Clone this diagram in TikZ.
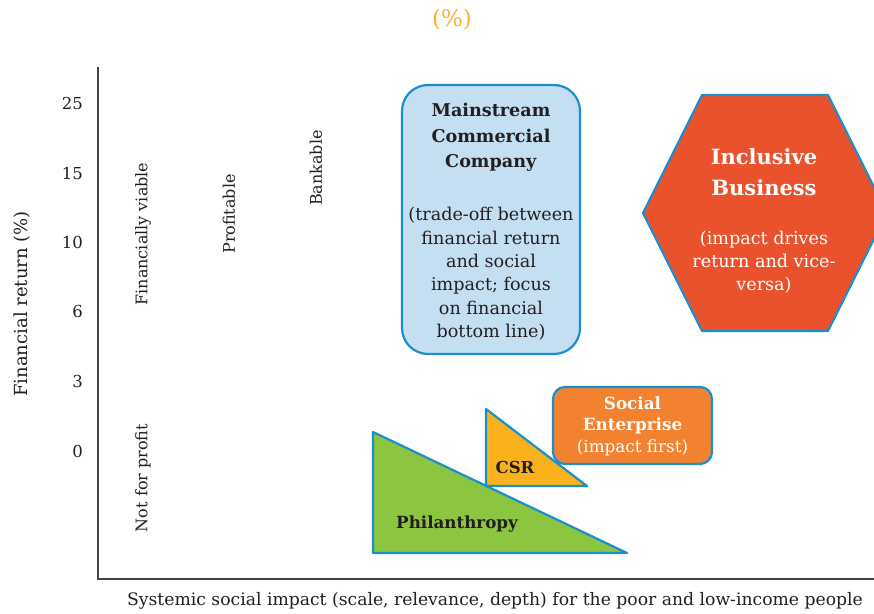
\documentclass[tikz,border=0pt]{standalone}
\usepackage{fontspec}
\setmainfont{DejaVu Serif}
\definecolor{edgeblue}{HTML}{1B8FCB}
\definecolor{boxblue}{HTML}{C4DFF2}
\definecolor{hexred}{HTML}{E9522C}
\definecolor{seorange}{HTML}{F28130}
\definecolor{csryellow}{HTML}{F9B21B}
\definecolor{philgreen}{HTML}{8CC540}
\definecolor{titleorange}{HTML}{F9B233}
\definecolor{axisgrey}{HTML}{444444}
\definecolor{txt}{HTML}{231F20}
\begin{document}
\begin{tikzpicture}[x=1pt,y=-1pt,
  lbl/.style={font=\fontsize{16}{19}\selectfont, text=txt, inner sep=0pt},
  tick/.style={font=\fontsize{16.5}{19}\selectfont, text=txt, inner sep=0pt, anchor=east},
  vlbl/.style={lbl, rotate=90},
  shapeline/.style={draw=edgeblue, line width=2.2pt, line join=round},
  boxtext/.style={align=center, inner sep=0pt},
  axis/.style={draw=axisgrey, line width=1.3pt}]
\useasboundingbox (0,0) rectangle (874,613);

% title fragment
\node[font=\fontsize{23}{26}\selectfont, text=titleorange, inner sep=0pt] (title) at (452,20) {(\%)};

% axes
\coordinate (ytop) at (98,67);
\coordinate (origin) at (98,579);
\coordinate (xend) at (874,579);
\draw[axis] (ytop) -- (origin) -- (xend);

% ticks
\node[tick] (t25) at (83,103) {25};
\node[tick] (t15) at (83,173) {15};
\node[tick] (t10) at (83,242) {10};
\node[tick] (t6)  at (83,311) {6};
\node[tick] (t3)  at (83,381) {3};
\node[tick] (t0)  at (83,451) {0};

% axis titles
\node[vlbl, font=\fontsize{18}{21}\selectfont] (ytitle) at (22,304) {Financial return (\%)};
\node[lbl, font=\fontsize{17.2}{20}\selectfont] (xtitle) at (495,601) {Systemic social impact (scale, relevance, depth) for the poor and low-income people};

% rotated category labels
\node[vlbl] (fv) at (143,234) {Financially viable};
\node[vlbl] (pr) at (229,214) {Profitable};
\node[vlbl] (bk) at (316,168) {Bankable};
\node[vlbl] (nfp) at (143,478) {Not for profit};

% Philanthropy triangle
\coordinate (p1) at (373,432);
\coordinate (p2) at (373,553);
\coordinate (p3) at (627,553);
\filldraw[shapeline, fill=philgreen] (p1) -- (p2) -- (p3) -- cycle;
\node[font=\fontsize{16.7}{20}\selectfont\bfseries, text=txt, inner sep=0pt] (phil) at (457,524) {Philanthropy};

% CSR triangle
\coordinate (c1) at (486,409);
\coordinate (c2) at (486,486);
\coordinate (c3) at (587,486);
\filldraw[shapeline, fill=csryellow] (c1) -- (c2) -- (c3) -- cycle;
\node[font=\fontsize{16.5}{20}\selectfont\bfseries, text=txt, inner sep=0pt] (csr) at (515,467) {CSR};

% Social enterprise
\node[shapeline, fill=seorange, rounded corners=12pt, minimum width=159pt, minimum height=77pt, inner sep=0pt] (se) at (632.5,425.5) {};
\node[boxtext, text=white, font=\fontsize{16.8}{21.5}\selectfont] (setext) at (632.5,426) {\textbf{Social}\\\textbf{Enterprise}\\(impact first)};

% Mainstream commercial company
\node[shapeline, fill=boxblue, rounded corners=26pt, minimum width=178pt, minimum height=269pt, inner sep=0pt] (mcc) at (491,219.5) {};
\node[boxtext, text=txt, font=\fontsize{17.6}{23.4}\selectfont] (mcctext) at (491,222)
  {\textbf{Mainstream}\\[2pt]\textbf{Commercial}\\[2pt]\textbf{Company}\\[29.5pt]
   (trade-off between\\financial return\\and social\\impact; focus\\on financial\\bottom line)};

% Inclusive business hexagon
\begin{scope}
\clip (0,0) rectangle (874,613);
\coordinate (h1) at (702,95);
\coordinate (h2) at (828,95);
\coordinate (h3) at (887,213);
\coordinate (h4) at (828,331);
\coordinate (h5) at (702,331);
\coordinate (h6) at (643,213);
\filldraw[shapeline, fill=hexred] (h1) -- (h2) -- (h3) -- (h4) -- (h5) -- (h6) -- cycle;
\end{scope}
\node[boxtext, text=white, font=\fontsize{21}{31}\selectfont\bfseries] (ibtitle) at (764,172) {Inclusive\\Business};
\node[boxtext, text=white, font=\fontsize{17.6}{23}\selectfont] (ibtext) at (764,262) {(impact drives\\return and vice-\\versa)};
\end{tikzpicture}
\end{document}
